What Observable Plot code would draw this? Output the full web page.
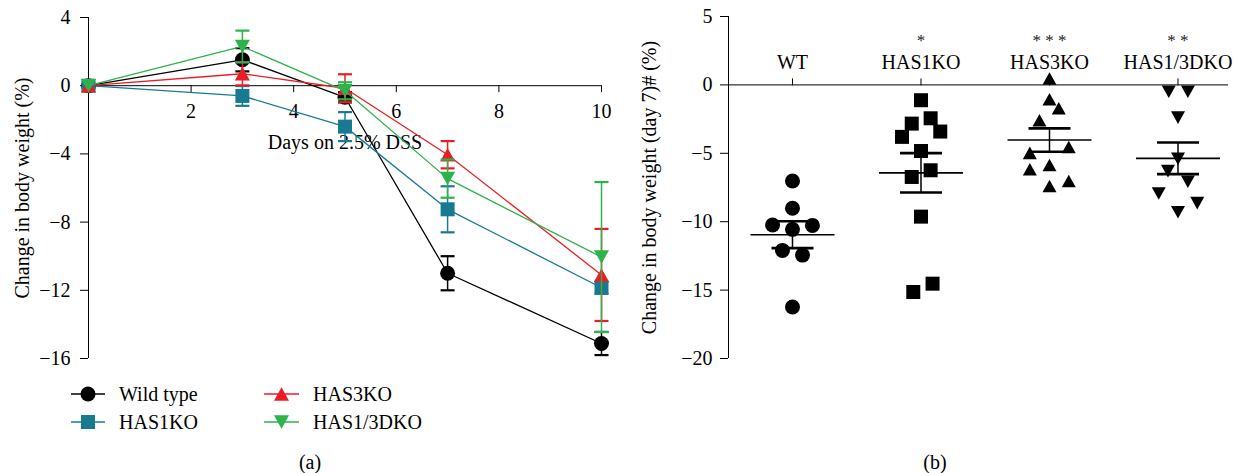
<!DOCTYPE html>
<html><head><meta charset="utf-8">
<script src="https://cdn.jsdelivr.net/npm/d3@7"></script>
<script src="https://cdn.jsdelivr.net/npm/@observablehq/plot@0.6"></script>
<style>
html,body{margin:0;padding:0;background:#fff;}
#root{position:relative;width:1237px;height:473px;font-family:"Liberation Serif","Times New Roman",serif;color:#000;overflow:hidden;}
#root svg, #root svg text{font-family:"Liberation Serif","Times New Roman",serif !important;}
.panel{position:absolute;top:0;}
.cap{position:absolute;font-size:20px;line-height:20px;transform:translate(-50%,-50%);white-space:nowrap;}
</style></head><body><div id="root"></div>
<script>
// ---------------- Panel (a): time course ----------------
const days = [0, 3, 5, 7, 10];
const seriesNames = ["Wild type", "HAS1KO", "HAS3KO", "HAS1/3DKO"];
const wildTypeMean = [0, 1.52, -0.68, -11.0, -15.12];
const wildTypeErr  = [0, 0.68, 0.3, 1.0, 0.68];
const has1Mean = [0, -0.6, -2.4, -7.25, -11.85];
const has1Err  = [0, 0.58, 0.85, 1.35, 0.35];
const has3Mean = [0, 0.7, -0.15, -4.05, -11.1];
const has3Err  = [0, 0.68, 0.82, 0.8, 2.7];
const dkoMean  = [0, 2.3, -0.3, -5.45, -10.05];
const dkoErr   = [0, 0.93, 0.5, 1.12, 4.4];
const yTicksA = [4, 0, -4, -8, -12, -16];
const xTicksA = [2, 4, 6, 8, 10];
const xLabelA = "Days on 2.5% DSS";
const yLabelA = "Change in body weight (%)";

// ---------------- Panel (b): day 7 scatter ----------------
const groups = ["WT", "HAS1KO", "HAS3KO", "HAS1/3DKO"];
const stars  = ["", "*", "* * *", "* *"];
const wtDay7   = [-7.02, -9.02, -10.24, -10.56, -10.27, -12.1, -12.44, -16.24];
const wtJitter = [0, 0, -0.155, 0, 0.155, -0.078, 0.078, 0];
const has1Day7   = [-1.12, -2.44, -2.83, -3.41, -3.8, -4.83, -6.24, -6.73, -9.63, -14.53, -15.14];
const has1Jitter = [0, 0.075, -0.072, 0.15, -0.148, 0, 0.075, -0.072, 0, 0.09, -0.06];
const has3Day7   = [0.47, -1.05, -1.71, -2.58, -4.54, -4.97, -5.85, -6.17, -7.02, -7.39];
const has3Jitter = [0, 0, 0.072, -0.078, 0.15, -0.153, 0, -0.153, 0.15, 0];
const dkoDay7    = [-0.5, -0.5, -2.39, -5.4, -6.3, -7.08, -7.94, -8.64, -9.31];
const dkoJitter  = [-0.072, 0.077, 0, 0, -0.078, 0.077, -0.15, 0.15, 0];
const groupMean = [-10.95, -6.43, -4.03, -5.37];
const groupSem  = [0.98, 1.44, 0.855, 1.155];
const yTicksB = [5, 0, -5, -10, -15, -20];
const yLabelB = "Change in body weight (day 7)# (%)";

// ---------------- symbols ----------------
const R = s => Math.sqrt(s / Math.PI);
const sym = {
  circle: {draw(c, s) { const r = R(s); c.moveTo(r, 0); c.arc(0, 0, r, 0, 2 * Math.PI); c.closePath(); }},
  square: {draw(c, s) { const r = R(s); c.moveTo(-r, -r); c.lineTo(r, -r); c.lineTo(r, r); c.lineTo(-r, r); c.closePath(); }},
  triUp:  {draw(c, s) { const r = R(s), h = r * 0.9; c.moveTo(0, -h); c.lineTo(r, h); c.lineTo(-r, h); c.closePath(); }},
  triDown:{draw(c, s) { const r = R(s), h = r * 0.9; c.moveTo(0, h); c.lineTo(r, -h); c.lineTo(-r, -h); c.closePath(); }},
  hline:  {draw(c, s) { const r = R(s); c.moveTo(-r, 0); c.lineTo(r, 0); }}
};
const seriesSym = [sym.circle, sym.square, sym.triUp, sym.triDown];
const seriesR = [7.5, 7, 7.5, 7.5];
const colors = ["#000000", "#177a91", "#ec1c24", "#2db34a"];
const fmt = d => d < 0 ? "\u2212" + (-d) : String(d);
const serif = '"Liberation Serif", "Times New Roman", serif';
const font = {fontFamily: serif, fontSize: "20px", color: "black", background: "none", overflow: "visible"};

const root = document.getElementById("root");

// ---------------- build panel (a) ----------------
const meansA = [wildTypeMean, has1Mean, has3Mean, dkoMean];
const errsA = [wildTypeErr, has1Err, has3Err, dkoErr];
const rowsA = seriesNames.flatMap((s, si) => days.map((d, k) => ({series: s, si, day: d, mean: meansA[si][k], err: errsA[si][k]})));

const WA = 620, HA = 370, mTA = 17, mBA = 12, mLA = 88, mRA = 19;
const yA = d3.scaleLinear([-16, 4], [HA - mBA, mTA]);

const marksA = [
  Plot.ruleX([0]),
  Plot.ruleY([0]),
  Plot.axisY({ticks: yTicksA, tickSize: 8, tickPadding: 10, tickFormat: fmt, label: null}),
  Plot.axisX({ticks: xTicksA, anchor: "bottom", tickSize: 7, tickPadding: 11, dy: yA(0) - (HA - mBA), tickFormat: d => String(d), label: null}),
  Plot.text([xLabelA], {frameAnchor: "top", textAnchor: "middle", dy: 131, lineAnchor: "bottom", fontSize: 20}),
  Plot.text([yLabelA], {frameAnchor: "left", textAnchor: "middle", rotate: -90, dx: -66, lineAnchor: "middle", fontSize: 20})
];
seriesNames.forEach((s, si) => {
  const rows = rowsA.filter(r => r.si === si);
  const er = rows.filter(r => r.err > 0);
  marksA.push(
    Plot.line(rows, {x: "day", y: "mean", stroke: colors[si], strokeWidth: 1.3}),
    Plot.ruleX(er, {x: "day", y1: r => r.mean - r.err, y2: r => r.mean + r.err, stroke: colors[si], strokeWidth: 1.5}),
    Plot.dot(er, {x: "day", y: r => r.mean - r.err, symbol: sym.hline, r: 7, fill: "none", stroke: colors[si], strokeWidth: 2.2}),
    Plot.dot(er, {x: "day", y: r => r.mean + r.err, symbol: sym.hline, r: 7, fill: "none", stroke: colors[si], strokeWidth: 2.2}),
    Plot.dot(rows, {x: "day", y: "mean", symbol: seriesSym[si], r: seriesR[si], fill: colors[si], stroke: "none"})
  );
});
const plotA = Plot.plot({
  width: WA, height: HA, marginTop: mTA, marginBottom: mBA, marginLeft: mLA, marginRight: mRA,
  style: font,
  x: {domain: [0, 10]},
  y: {domain: [-16, 4]},
  marks: marksA
});
const divA = document.createElement("div");
divA.className = "panel"; divA.style.left = "0px"; divA.style.width = WA + "px";
divA.appendChild(plotA); root.appendChild(divA);

// legend for panel (a)
const leg = d3.create("svg").attr("width", 620).attr("height", 80)
  .style("position", "absolute").style("left", "0px").style("top", "370px").style("overflow", "visible");
const legCols = [{l1: 71, l2: 105, m: 88, t: 119}, {l1: 264, l2: 299, m: 281.5, t: 313}];
const legRows = [24, 52];
seriesNames.forEach((s, i) => {
  const c = legCols[Math.floor(i / 2)], y = legRows[i % 2];
  const g = leg.append("g");
  g.append("line").attr("x1", c.l1).attr("x2", c.l2).attr("y1", y).attr("y2", y).attr("stroke", colors[i]).attr("stroke-width", 1.3);
  g.append("path").attr("transform", `translate(${c.m},${y})`)
    .attr("d", d3.symbol(seriesSym[i], Math.PI * seriesR[i] * seriesR[i])()).attr("fill", colors[i]);
  g.append("text").attr("x", c.t).attr("y", y + 6.5).style("font-size", "20px")
    .style("font-family", serif).attr("fill", "#000").text(s);
});
root.appendChild(leg.node());

// ---------------- build panel (b) ----------------
const valsB = [wtDay7, has1Day7, has3Day7, dkoDay7];
const jitB = [wtJitter, has1Jitter, has3Jitter, dkoJitter];
const dotRows = valsB.flatMap((vals, gi) => vals.map((v, k) => ({gi, x: gi + jitB[gi][k], y: v})));
const sumRows = groups.map((g, gi) => ({gi, mean: groupMean[gi], sem: groupSem[gi], star: stars[gi], zero: 0}));

const WB = 617, HB = 370, mTB = 16, mBB = 12, mLB = 108, mRB = 9;
const xDomB = [-0.498, 3.393];
const yB = d3.scaleLinear([-20, 5], [HB - mBB, mTB]);
const groupSym = [sym.circle, sym.square, sym.triUp, sym.triDown];
const groupR = [7.5, 7, 7, 7];

const marksB = [
  Plot.ruleX([xDomB[0]]),
  Plot.ruleY([0]),
  Plot.axisY({ticks: yTicksB, tickSize: 8, tickPadding: 8, tickFormat: fmt, label: null}),
  Plot.axisX({ticks: [0, 1, 2, 3], anchor: "top", tickSize: 7, tickPadding: 9, dy: yB(0) - mTB, tickFormat: i => groups[i], label: null}),
  Plot.text(sumRows, {x: "gi", y: "zero", text: "star", dy: -38.5, lineAnchor: "bottom", fontSize: 17, fill: "#222"}),
  Plot.text([yLabelB], {frameAnchor: "left", textAnchor: "middle", rotate: -90, dx: -79, lineAnchor: "middle", fontSize: 20})
];
groups.forEach((g, gi) => {
  marksB.push(Plot.dot(dotRows.filter(d => d.gi === gi), {x: "x", y: "y", symbol: groupSym[gi], r: groupR[gi], fill: "black", stroke: "none"}));
});
marksB.push(
  Plot.dot(sumRows, {x: "gi", y: "mean", symbol: sym.hline, r: 42, fill: "none", stroke: "black", strokeWidth: 1.6}),
  Plot.ruleX(sumRows, {x: "gi", y1: d => d.mean - d.sem, y2: d => d.mean + d.sem, stroke: "black", strokeWidth: 1.5}),
  Plot.dot(sumRows, {x: "gi", y: d => d.mean + d.sem, symbol: sym.hline, r: 21, fill: "none", stroke: "black", strokeWidth: 2.6}),
  Plot.dot(sumRows, {x: "gi", y: d => d.mean - d.sem, symbol: sym.hline, r: 21, fill: "none", stroke: "black", strokeWidth: 2.6})
);
const plotB = Plot.plot({
  width: WB, height: HB, marginTop: mTB, marginBottom: mBB, marginLeft: mLB, marginRight: mRB,
  style: font,
  x: {domain: xDomB},
  y: {domain: [-20, 5]},
  marks: marksB
});
const divB = document.createElement("div");
divB.className = "panel"; divB.style.left = "620px"; divB.style.width = WB + "px";
divB.appendChild(plotB); root.appendChild(divB);

// captions
[["(a)", 310], ["(b)", 935]].forEach(([t, x]) => {
  const d = document.createElement("div");
  d.className = "cap"; d.style.left = x + "px"; d.style.top = "462px"; d.textContent = t;
  root.appendChild(d);
});
</script></body></html>
